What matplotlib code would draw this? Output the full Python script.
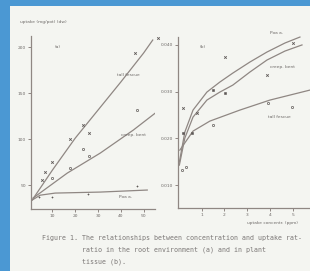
import matplotlib
matplotlib.use("Agg")
import matplotlib.pyplot as plt
from matplotlib.patches import Rectangle

# ---------------- data ----------------
# panel (a): uptake vs concentration in root environment
a_xticks = [10, 20, 30, 40, 50]
a_yticks = [50, 100, 150, 200]

a_fescue_line_x = [1.1, 10, 20, 30, 40, 50, 54]
a_fescue_line_y = [33.7, 66.3, 101, 131.5, 162, 193.5, 207.6]
a_fescue_pts_x = [5.5, 6.8, 9.9, 17.8, 23.5, 26.2, 46.4, 56.5]
a_fescue_pts_y = [55.4, 64, 75, 100, 115, 106.5, 193.5, 210]

a_bent_line_x = [1.5, 16.5, 31, 45.5, 55]
a_bent_line_y = [35.9, 63, 84.8, 109.8, 128]
a_bent_pts_x = [9.9, 17.8, 23.5, 26.2, 47.3]
a_bent_pts_y = [57.6, 68.5, 89, 81.5, 131.5]

a_poa_line_x = [1.1, 4.6, 11.2, 31, 51.6]
a_poa_line_y = [33.7, 39, 41.3, 42.4, 44.6]
a_poa_pts_x = [4.0, 9.9, 25.7, 47.3]
a_poa_pts_y = [37, 37, 40, 49]

# panel (b): concentration in plant tissue vs uptake
b_xticks = [1, 2, 3, 4, 5]
b_yticks = [0.010, 0.020, 0.030, 0.040]
b_yticklabels = ["0.010", "0.020", "0.030", "0.040"]

b_poa_x = [0.02, 0.26, 0.62, 1.23, 1.80, 2.37, 3.12, 3.87, 4.66, 5.32]
b_poa_y = [0.01493, 0.02135, 0.02606, 0.02991, 0.03206, 0.03398, 0.03634, 0.03848, 0.04041, 0.04169]
b_bent_x = [0.02, 0.26, 0.62, 1.23, 1.80, 2.37, 3.12, 3.87, 4.66, 5.41]
b_bent_y = [0.01428, 0.02006, 0.02456, 0.02820, 0.02991, 0.03141, 0.03420, 0.03677, 0.03869, 0.04000]
b_fescue_x = [0.04, 0.62, 1.36, 2.68, 4.0, 5.76]
b_fescue_y = [0.01749, 0.02156, 0.02370, 0.02606, 0.02820, 0.03034]

b_pts1_x = [0.18, 2.02, 3.87, 5.01, 0.79]
b_pts1_y = [0.02649, 0.03741, 0.03355, 0.04041, 0.02542]
b_pts2_x = [1.49, 2.02, 0.57, 0.18]
b_pts2_y = [0.03034, 0.02970, 0.02113, 0.02113]
b_pts3_x = [1.49, 3.91, 4.97, 0.13, 0.31]
b_pts3_y = [0.02285, 0.02756, 0.02670, 0.01321, 0.01385]

caption = ["Figure 1. The relationships between concentration and uptake rat-",
           "          ratio in the root environment (a) and in plant",
           "          tissue (b)."]

# ---------------- styling ----------------
PAGE = "#f4f5f1"
BLUE = "#4b98d3"
LINE = "#8f8783"
INK = "#6e6a68"
FS = 3.2

fig = plt.figure(figsize=(3.10, 2.71), dpi=100, facecolor=PAGE)
fig.patches.append(Rectangle((0, 0), 10/310, 1, transform=fig.transFigure,
                             facecolor=BLUE, edgecolor="none", zorder=0))
fig.patches.append(Rectangle((0, 1-6/271), 1, 6/271, transform=fig.transFigure,
                             facecolor=BLUE, edgecolor="none", zorder=0))

def style(ax):
    ax.set_facecolor("none")
    for s in ["top", "right"]:
        ax.spines[s].set_visible(False)
    for s in ["left", "bottom"]:
        ax.spines[s].set_color(LINE)
        ax.spines[s].set_linewidth(0.9)
    ax.tick_params(direction="out", length=2, width=0.7, colors=LINE,
                   labelsize=FS, labelcolor=INK, pad=1.5)

# panel (a)
axa = fig.add_axes([31/310, 1-209/271, 124/310, 173/271])
style(axa)
axa.set_xlim(0.6, 55)
axa.set_ylim(24, 212)
axa.set_xticks(a_xticks)
axa.set_yticks(a_yticks)
axa.plot(a_fescue_line_x, a_fescue_line_y, color=LINE, lw=0.9)
axa.plot(a_bent_line_x, a_bent_line_y, color=LINE, lw=0.9)
axa.plot(a_poa_line_x, a_poa_line_y, color=LINE, lw=0.9)
axa.plot(a_fescue_pts_x, a_fescue_pts_y, ls="none", marker="x", ms=1.8, mew=0.6, color="#5d5856", clip_on=False)
axa.plot(a_bent_pts_x, a_bent_pts_y, ls="none", marker="o", ms=1.6, mew=0.5, mfc="none", color="#5d5856")
axa.plot(a_poa_pts_x, a_poa_pts_y, ls="none", marker="+", ms=2, mew=0.5, color="#5d5856")
axa.text(43.3, 169.6, "tall fescue", fontsize=FS, color=INK, ha="center", va="center")
axa.text(45.5, 104, "creep. bent", fontsize=FS, color=INK, ha="center", va="center")
axa.text(42, 37, "Poa a.", fontsize=FS, color=INK, ha="center", va="center")
axa.text(12.1, 200, "(a)", fontsize=FS, color=INK, ha="center", va="center")
fig.text(20/310, 1-22/271, "uptake (mg/pot) (dw)", fontsize=FS, color=INK, ha="left", va="center")

# panel (b)
axb = fig.add_axes([178/310, 1-208/271, 134/310, 171/271])
style(axb)
axb.set_xlim(-0.04, 5.85)
axb.set_ylim(0.0051, 0.0417)
axb.set_xticks(b_xticks)
axb.set_yticks(b_yticks)
axb.set_yticklabels(b_yticklabels)
axb.plot(b_poa_x, b_poa_y, color=LINE, lw=0.9, clip_on=False)
axb.plot(b_bent_x, b_bent_y, color=LINE, lw=0.9)
axb.plot(b_fescue_x, b_fescue_y, color=LINE, lw=0.9)
axb.plot(b_pts1_x, b_pts1_y, ls="none", marker="x", ms=1.8, mew=0.6, color="#5d5856", clip_on=False)
axb.plot(b_pts2_x, b_pts2_y, ls="none", marker="s", ms=1.5, mew=0.4, color="#5d5856")
axb.plot(b_pts3_x, b_pts3_y, ls="none", marker="o", ms=1.6, mew=0.5, mfc="none", color="#5d5856")
axb.text(4.3, 0.0425, "Poa a.", fontsize=FS, color=INK, ha="center", va="center", clip_on=False)
axb.text(4.55, 0.0353, "creep. bent", fontsize=FS, color=INK, ha="center", va="center")
axb.text(4.4, 0.0245, "tall fescue", fontsize=FS, color=INK, ha="center", va="center")
axb.text(1.05, 0.0396, "(b)", fontsize=FS, color=INK, ha="center", va="center")
fig.text(247/310, 1-223/271, "uptake concentr. (ppm)", fontsize=FS, color=INK, ha="left", va="center")

# caption
for i, line in enumerate(caption):
    fig.text(42/310, 1-(238 + 12*i)/271, line, fontsize=4.8, color="#7a7675",
             family="DejaVu Sans Mono", ha="left", va="center")

fig.savefig("out.png", dpi=100, facecolor=PAGE)
